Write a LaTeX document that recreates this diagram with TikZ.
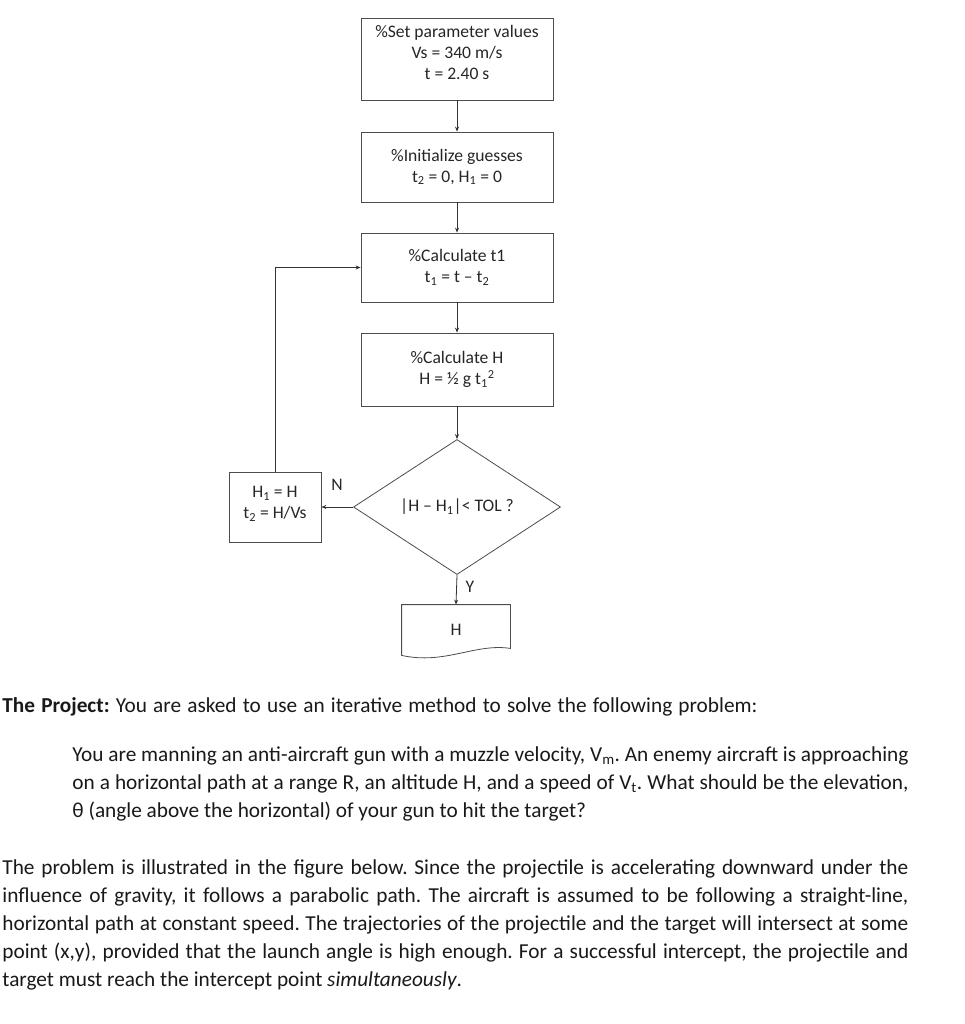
\documentclass[tikz,border=0pt]{standalone}
\usepackage{fontspec}
\setmainfont{Carlito}
\usetikzlibrary{shapes.geometric,arrows.meta}
\newcommand\subs[1]{\textsubscript{#1}}
\newcommand\sups[1]{\textsuperscript{#1}}
\frenchspacing
\begin{document}
\begin{tikzpicture}[x=1pt,y=-1pt,
  line width=0.8pt,
  fc/.style={font=\fontsize{17.6}{21}\selectfont, text=black!85},
  box/.style={fc, draw=black!70, minimum width=192pt, inner sep=0pt, align=center},
  arr/.style={draw=black!80, -{Stealth[length=5pt,width=4pt]}},
  lbl/.style={fc, inner sep=0pt},
  body/.style={anchor=base west, inner sep=0pt, text=black!90, font=\fontsize{21.3}{26}\selectfont}
]
\path[use as bounding box] (0,0) rectangle (965,1024);

% flowchart
\node[box, minimum height=82pt] (b1) at (457,59) {\%Set parameter values\\Vs = 340 m/s\\t = 2.40 s\\[-8pt]\mbox{}};
\node[box, minimum height=70pt] (b2) at (457,167) {\%Initialize guesses\\t\subs{2} = 0, H\subs{1} = 0};
\node[box, minimum height=69pt] (b3) at (457,267.5) {\%Calculate t1\\t\subs{1} = t \textendash{} t\subs{2}};
\node[box, minimum height=73pt] (b4) at (457,369.5) {\%Calculate H\\H = ½ g t\subs{1}\sups{2}};
\node[fc, diamond, draw=black!70, inner sep=0pt, shape aspect=1.53, minimum width=207pt, minimum height=135pt] (d) at (457,507) {|H \textendash{} H\subs{1}|< TOL ?};
\node[box, minimum width=92pt, minimum height=70pt] (lb) at (275,507) {H\subs{1} = H\\t\subs{2} = H/Vs\\[-12pt]\mbox{}};
\node[fc, minimum width=108pt, minimum height=50pt, inner sep=0pt] (out) at (456,630) {H};
\draw[draw=black!70] (out.north west) -- (out.north east) -- ([yshift=7pt]out.south east)
  .. controls (475,643) and (445,665) .. (out.south west) -- cycle;

\draw[arr] (b1) -- (b2);
\draw[arr] (b2) -- (b3);
\draw[arr] (b3) -- (b4);
\draw[arr] (b4) -- (d);
\draw[arr] (d.west) -- (lb.east);
\draw[arr] (lb.north) |- (b3.west);
\draw[arr] (d.south) -- (out.north);
\node[lbl] (n) at (337,485) {N};
\node[lbl] (y) at (470,587) {Y};

% text
\node[body] (t0) at (2,712) {\makebox[755pt][s]{\textbf{The Project:} You are asked to use an iterative method to solve the following problem:}};
\node[body] (t1) at (72,761) {\makebox[836pt][s]{You are manning an anti-aircraft gun with a muzzle velocity, V\subs{m}. An enemy aircraft is approaching}};
\node[body] (t2) at (72,789) {\makebox[836pt][s]{on a horizontal path at a range R, an altitude H, and a speed of V\subs{t}. What should be the elevation,}};
\node[body] (t3) at (72,817) {θ (angle above the horizontal) of your gun to hit the target?};
\node[body] (t4) at (2,874) {\makebox[906pt][s]{The problem is illustrated in the figure below. Since the projectile is accelerating downward under the}};
\node[body] (t5) at (2,902) {\makebox[906pt][s]{influence of gravity, it follows a parabolic path. The aircraft is assumed to be following a straight-line,}};
\node[body] (t6) at (2,930) {\makebox[906pt][s]{horizontal path at constant speed. The trajectories of the projectile and the target will intersect at some}};
\node[body] (t7) at (2,958) {\makebox[906pt][s]{point (x,y), provided that the launch angle is high enough. For a successful intercept, the projectile and}};
\node[body] (t8) at (2,986) {target must reach the intercept point \textit{simultaneously}.};
\end{tikzpicture}
\end{document}
